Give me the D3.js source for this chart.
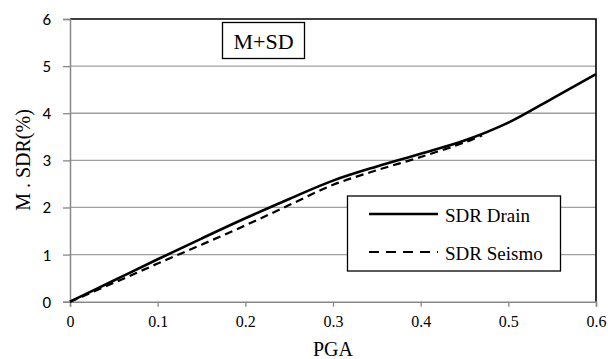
<!DOCTYPE html>
<html><head><meta charset="utf-8">
<script src="https://cdn.jsdelivr.net/npm/d3@7"></script>
<style>body{margin:0;background:#fff}svg{display:block}</style>
</head><body><svg id="c" width="608" height="359"></svg>
<script>
const pga = [0, 0.05, 0.1, 0.15, 0.2, 0.25, 0.3, 0.35, 0.4, 0.45, 0.5, 0.55, 0.6];
const sdrDrain = [0, 0.45, 0.9, 1.34, 1.77, 2.18, 2.57, 2.87, 3.14, 3.42, 3.80, 4.31, 4.83];
const pgaSeismo = [0, 0.05, 0.1, 0.15, 0.2, 0.25, 0.3, 0.35, 0.4, 0.45, 0.47];
const sdrSeismo = [0, 0.40, 0.81, 1.21, 1.62, 2.05, 2.48, 2.79, 3.07, 3.38, 3.53];
const xTicks = [0, 0.1, 0.2, 0.3, 0.4, 0.5, 0.6];
const yTicks = [0, 1, 2, 3, 4, 5, 6];
const seriesNames = ["SDR Drain", "SDR Seismo"];
const boxLabel = "M+SD";
const xTitle = "PGA";
const yTitle = "M . SDR(%)";

const svg = d3.select("#c");
const L = 70, R = 596, T = 19, B = 301.7;
const x = d3.scaleLinear().domain([0, 0.6]).range([L, R]);
const y = d3.scaleLinear().domain([0, 6]).range([B, T]);
const serif = "'Liberation Serif','Times New Roman',serif";
const sans = "Carlito, Lato, 'Open Sans', sans-serif";

svg.append("g").selectAll("line").data(yTicks.slice(1, -1)).join("line")
  .attr("x1", L).attr("x2", R).attr("y1", d => y(d)).attr("y2", d => y(d))
  .attr("stroke", "#a0a0a0").attr("stroke-width", 1.3);
svg.append("path").attr("d", `M${L},${y(6)}H${R}V${B}`).attr("fill", "none")
  .attr("stroke", "#000").attr("stroke-width", 1.6);

const ya = svg.append("g").attr("transform", `translate(${L},0)`)
  .call(d3.axisLeft(y).tickValues(yTicks).tickFormat(d3.format("d")).tickSize(7).tickPadding(12));
ya.select(".domain").attr("stroke", "#888").attr("stroke-width", 1.5);
ya.selectAll(".tick line").attr("stroke", "#888").attr("stroke-width", 1.3);
ya.selectAll("text").attr("font-family", sans).attr("font-size", 17).attr("fill", "#000");

const xa = svg.append("g").attr("transform", `translate(0,${B})`)
  .call(d3.axisBottom(x).tickValues(xTicks).tickFormat(d => d === 0 ? "0" : d3.format(".1f")(d)).tickSize(5).tickPadding(9));
xa.select(".domain").attr("stroke", "#888").attr("stroke-width", 1.5);
xa.selectAll(".tick line").attr("stroke", "#888").attr("stroke-width", 1.3);
xa.selectAll("text").attr("font-family", serif).attr("font-size", 16).attr("fill", "#000");

const line = d3.line().x(d => x(d[0])).y(d => y(d[1])).curve(d3.curveCatmullRom.alpha(0.5));
svg.append("path").datum(pgaSeismo.map((p, i) => [p, sdrSeismo[i]]))
  .attr("d", line).attr("fill", "none").attr("stroke", "#000").attr("stroke-width", 2.2)
  .attr("stroke-dasharray", "8,5");
svg.append("path").datum(pga.map((p, i) => [p, sdrDrain[i]]))
  .attr("d", line).attr("fill", "none").attr("stroke", "#000").attr("stroke-width", 2.6);

svg.append("text").attr("x", 333).attr("y", 356).attr("text-anchor", "middle")
  .attr("font-family", serif).attr("font-size", 20).text(xTitle);
svg.append("text").attr("transform", "translate(30,160) rotate(-90)").attr("text-anchor", "middle")
  .attr("font-family", serif).attr("font-size", 20).text(yTitle);

svg.append("rect").attr("x", 222.5).attr("y", 22.5).attr("width", 82).attr("height", 36)
  .attr("fill", "#fff").attr("stroke", "#000").attr("stroke-width", 1.3);
svg.append("text").attr("x", 263.5).attr("y", 48.5).attr("text-anchor", "middle")
  .attr("font-family", serif).attr("font-size", 22).text(boxLabel);

const lg = svg.append("g");
lg.append("rect").attr("x", 347.5).attr("y", 196).attr("width", 213).attr("height", 75)
  .attr("fill", "#fff").attr("stroke", "#000").attr("stroke-width", 1.3);
[214, 252].forEach((ly, i) => {
  lg.append("line").attr("x1", 369).attr("x2", 438).attr("y1", ly).attr("y2", ly)
    .attr("stroke", "#000").attr("stroke-width", i ? 2.2 : 2.6)
    .attr("stroke-dasharray", i ? "10,7" : null);
  lg.append("text").attr("x", 445).attr("y", ly + 8).attr("font-family", serif)
    .attr("font-size", 19).text(seriesNames[i]);
});
</script></body></html>
